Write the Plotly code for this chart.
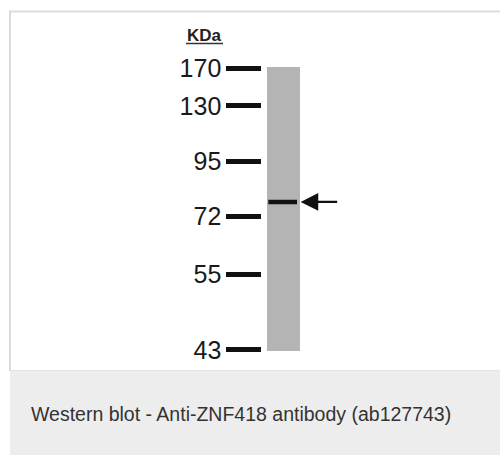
import plotly.graph_objects as go

# ---- data ----
marker_kda = ["170", "130", "95", "72", "55", "43"]
marker_rf = [0.005, 0.137, 0.333, 0.525, 0.729, 0.996]   # relative migration of ladder bands
lane_names = ["Lane 1"]
lane_x = [1]
band_rf = [0.475]                                         # detected ZNF418 band
caption = "Western blot - Anti-ZNF418 antibody (ab127743)"
unit_label = "KDa"

W, H = 500, 455
def py(p):  # pixel y -> paper fraction
    return 1 - p / H
def px(p):
    return p / W

fig = go.Figure()

# lane
fig.add_trace(go.Bar(
    x=lane_x, y=[1.0], base=[0.0], width=1.0,
    marker=dict(color="#b4b4b4", line=dict(width=0)),
    name=lane_names[0], showlegend=False, hoverinfo="skip"))

annotations = [
    dict(text="<b>" + unit_label + "</b>", xref="paper", yref="paper",
         x=px(204.5), y=py(36), xanchor="center", yanchor="middle",
         showarrow=False,
         font=dict(family="Arial, Liberation Sans", size=17, color="#222222")),
    dict(text=caption, xref="paper", yref="paper",
         x=px(29), y=py(414), xanchor="left", yanchor="middle",
         showarrow=False,
         font=dict(family="Arial, Liberation Sans", size=19.5, color="#333333")),
]

# band + arrow
for xl, rf in zip(lane_x, band_rf):
    fig.add_trace(go.Scatter(
        x=[xl - 0.46, xl + 0.41], y=[rf, rf], mode="lines",
        line=dict(color="#111111", width=4.5),
        showlegend=False, hoverinfo="skip"))
    annotations.append(dict(
        x=xl + 0.52, y=rf, xref="x", yref="y",
        ax=38, ay=0, axref="pixel", ayref="pixel",
        showarrow=True, arrowhead=2, arrowsize=1.6, arrowwidth=2.2,
        arrowcolor="#111111", text=""))

fig.update_layout(
    width=W, height=H,
    margin=dict(l=0, r=0, t=0, b=0, pad=0, autoexpand=False),
    paper_bgcolor="white", plot_bgcolor="rgba(0,0,0,0)",
    showlegend=False,
    xaxis=dict(domain=[px(262.3), px(350)], range=[0.358, 3.016],
               showgrid=False, zeroline=False, showticklabels=False,
               ticks="", showline=False, fixedrange=True, automargin=False),
    yaxis=dict(domain=[py(351), py(67)], range=[1.0, 0.0],
               tickvals=marker_rf, ticktext=marker_kda,
               ticks="outside", ticklen=35, tickwidth=4.5, tickcolor="#111111",
               tickfont=dict(family="Arial, Liberation Sans", size=25, color="#1a1a1a"),
               ticklabelstandoff=0, automargin=False,
               showgrid=False, zeroline=False, showline=False, fixedrange=True),
    shapes=[
        dict(type="rect", xref="paper", yref="paper",
             x0=px(10), x1=1.02, y0=py(456), y1=py(371),
             fillcolor="#ededed", line=dict(width=0), layer="below"),
        dict(type="line", xref="paper", yref="paper",
             x0=px(10), x1=1.02, y0=py(370.5), y1=py(370.5),
             line=dict(color="#e2e2e2", width=1)),
        dict(type="line", xref="paper", yref="paper",
             x0=px(10), x1=px(10), y0=py(371), y1=py(10.5),
             line=dict(color="#dcdcdc", width=2)),
        dict(type="line", xref="paper", yref="paper",
             x0=px(9), x1=1.02, y0=py(11.5), y1=py(11.5),
             line=dict(color="#dcdcdc", width=2)),
        dict(type="line", xref="paper", yref="paper",
             x0=px(186), x1=px(223), y0=py(43.5), y1=py(43.5),
             line=dict(color="#333333", width=1.5)),
    ],
    annotations=annotations,
)

fig.write_html("out.html", config={"displayModeBar": False},
               post_script="document.body.style.margin='0';")
